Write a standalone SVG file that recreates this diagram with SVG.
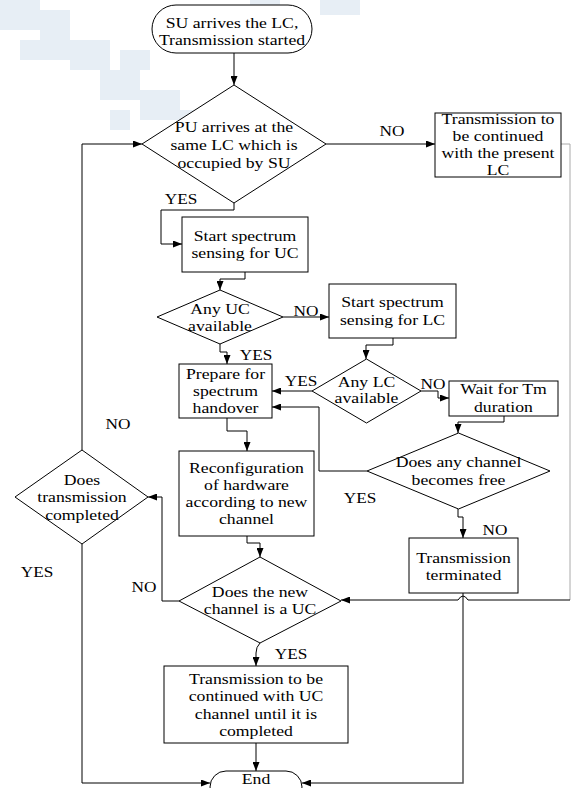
<svg xmlns="http://www.w3.org/2000/svg" width="571" height="788" viewBox="0 0 571 788">
<style>
.n{fill:#fff;stroke:#000;stroke-width:1}
.t{font-family:"Liberation Serif","Times New Roman",serif;font-size:15px;fill:#000;text-anchor:middle}
.c{fill:none;stroke:#000;stroke-width:1}
.wm{fill:#dde7f2}
</style>
<defs>
<marker id="ah" markerUnits="userSpaceOnUse" markerWidth="9" markerHeight="7" refX="9" refY="3.5" orient="auto"><path d="M0,0 L9,3.5 L0,7 z" fill="#000"/></marker>
</defs>
<rect width="571" height="788" fill="#fff"/>
<g id="watermark" opacity="0.7">
<rect class="wm" x="0" y="0" width="40" height="30"/>
<rect class="wm" x="40" y="10" width="30" height="30"/>
<rect class="wm" x="20" y="40" width="50" height="20"/>
<rect class="wm" x="70" y="40" width="40" height="30"/>
<rect class="wm" x="100" y="70" width="40" height="30"/>
<rect class="wm" x="120" y="50" width="30" height="20"/>
<rect class="wm" x="140" y="90" width="40" height="30"/>
<rect class="wm" x="180" y="110" width="40" height="20"/>
<rect class="wm" x="110" y="110" width="20" height="20"/>
<rect class="wm" x="250" y="0" width="30" height="20"/>
<rect class="wm" x="320" y="0" width="40" height="15"/>
</g>
<g id="connectors">
<path class="c" d="M234,53 L234,85" marker-end="url(#ah)"/>
<path class="c" d="M326,144 L435,144" marker-end="url(#ah)"/>
<path class="c" d="M234,203 L234,210 L161,210 L161,244 L182,244" marker-end="url(#ah)"/>
<path class="c" d="M245,272 L245,279 L220,279 L220,290" marker-end="url(#ah)"/>
<path class="c" d="M283,317 L329,317" marker-end="url(#ah)"/>
<path class="c" d="M220,344 L220,352 L227,352 L227,364" marker-end="url(#ah)"/>
<path class="c" d="M393,338 L393,345 L366,345 L366,359" marker-end="url(#ah)"/>
<path class="c" d="M312,391 L272,391" marker-end="url(#ah)"/>
<path class="c" d="M421,391 L438,391 L438,398 L449,398" marker-end="url(#ah)"/>
<path class="c" d="M504,416 L504,422 L458,422 L458,433" marker-end="url(#ah)"/>
<path class="c" d="M367,471 L319,471 L319,407 L272,407" marker-end="url(#ah)"/>
<path class="c" d="M458,509 L458,517 L463,517 L463,538" marker-end="url(#ah)"/>
<path class="c" d="M227,418 L227,431 L247,431 L247,451" marker-end="url(#ah)"/>
<path class="c" d="M247,536 L247,543 L260,543 L260,557" marker-end="url(#ah)"/>
<path class="c" d="M179,601 L162,601 L162,497 L148,497" marker-end="url(#ah)"/>
<path class="c" d="M260,643 Q256,647 256,653 L256,666" marker-end="url(#ah)"/>
<path class="c" d="M256,743 L256,771" marker-end="url(#ah)"/>
<path class="c" d="M82,450 L82,144 L142,144" marker-end="url(#ah)"/>
<path class="c" d="M82,544 L82,783 L210,783" marker-end="url(#ah)"/>
<path class="c" d="M463,593 L463,783 L302,783" style="stroke:#555;stroke-width:1.5" marker-end="url(#ah)"/>
<path class="c" d="M561,144 L570,144 L570,600" style="stroke:#aaa"/>
<path class="c" d="M570,600 L468,600 Q463,592 458,600 L341,600" marker-end="url(#ah)"/>
</g>
<g id="start">
<rect class="n" x="152" y="5" width="160" height="48" rx="24"/>
<g transform="translate(232 0) scale(1.18 1)"><text class="t"><tspan x="0" y="28">SU arrives the LC,</tspan><tspan x="0" y="45">Transmission started</tspan></text></g>
</g>
<g id="pu_arrives">
<polygon class="n" points="234,85 326,144 234,203 142,144"/>
<g transform="translate(234 0) scale(1.18 1)"><text class="t"><tspan x="0" y="132">PU arrives at the</tspan><tspan x="0" y="150">same LC which is</tspan><tspan x="0" y="168">occupied by SU</tspan></text></g>
</g>
<g id="continue_lc">
<rect class="n" x="435" y="113" width="126" height="64"/>
<g transform="translate(498 0) scale(1.18 1)"><text class="t"><tspan x="0" y="124">Transmission to</tspan><tspan x="0" y="141">be continued</tspan><tspan x="0" y="158">with the present</tspan><tspan x="0" y="175">LC</tspan></text></g>
</g>
<g id="sense_uc">
<rect class="n" x="182" y="217" width="126" height="55"/>
<g transform="translate(245 0) scale(1.18 1)"><text class="t"><tspan x="0" y="241">Start spectrum</tspan><tspan x="0" y="258">sensing for UC</tspan></text></g>
</g>
<g id="any_uc">
<polygon class="n" points="220,290 283,317 220,344 157,317"/>
<g transform="translate(220 0) scale(1.18 1)"><text class="t"><tspan x="0" y="314">Any UC</tspan><tspan x="0" y="331">available</tspan></text></g>
</g>
<g id="sense_lc">
<rect class="n" x="329" y="284" width="127" height="54"/>
<g transform="translate(392.5 0) scale(1.18 1)"><text class="t"><tspan x="0" y="307">Start spectrum</tspan><tspan x="0" y="325">sensing for LC</tspan></text></g>
</g>
<g id="any_lc">
<polygon class="n" points="366.5,359 421,391 366.5,423 312,391"/>
<g transform="translate(366.5 0) scale(1.18 1)"><text class="t"><tspan x="0" y="387">Any LC</tspan><tspan x="0" y="403">available</tspan></text></g>
</g>
<g id="prepare">
<rect class="n" x="179" y="364" width="93" height="54"/>
<g transform="translate(225.5 0) scale(1.18 1)"><text class="t"><tspan x="0" y="379">Prepare for</tspan><tspan x="0" y="396">spectrum</tspan><tspan x="0" y="413">handover</tspan></text></g>
</g>
<g id="wait">
<rect class="n" x="449" y="381" width="109" height="35"/>
<g transform="translate(503.5 0) scale(1.18 1)"><text class="t"><tspan x="0" y="394">Wait for Tm</tspan><tspan x="0" y="412">duration</tspan></text></g>
</g>
<g id="channel_free">
<polygon class="n" points="458.5,433 550,471 458.5,509 367,471"/>
<g transform="translate(458.5 0) scale(1.18 1)"><text class="t"><tspan x="0" y="467">Does any channel</tspan><tspan x="0" y="485">becomes free</tspan></text></g>
</g>
<g id="terminated">
<rect class="n" x="409" y="538" width="109" height="55"/>
<g transform="translate(463.5 0) scale(1.18 1)"><text class="t"><tspan x="0" y="563">Transmission</tspan><tspan x="0" y="580">terminated</tspan></text></g>
</g>
<g id="reconfig">
<rect class="n" x="179" y="451" width="135" height="85"/>
<g transform="translate(246.5 0) scale(1.18 1)"><text class="t"><tspan x="0" y="473">Reconfiguration</tspan><tspan x="0" y="490">of hardware</tspan><tspan x="0" y="507">according to new</tspan><tspan x="0" y="524">channel</tspan></text></g>
</g>
<g id="new_uc">
<polygon class="n" points="260,557 341,601 260,643 179,601"/>
<g transform="translate(260 0) scale(1.18 1)"><text class="t"><tspan x="0" y="597">Does the new</tspan><tspan x="0" y="614">channel is a UC</tspan></text></g>
</g>
<g id="tx_done">
<polygon class="n" points="82,450 148,497 82,544 15,497"/>
<g transform="translate(82 0) scale(1.18 1)"><text class="t"><tspan x="0" y="485">Does</tspan><tspan x="0" y="502">transmission</tspan><tspan x="0" y="520">completed</tspan></text></g>
</g>
<g id="continue_uc">
<rect class="n" x="164" y="666" width="184" height="77"/>
<g transform="translate(256 0) scale(1.18 1)"><text class="t"><tspan x="0" y="684">Transmission to be</tspan><tspan x="0" y="701">continued with UC</tspan><tspan x="0" y="719">channel until it is</tspan><tspan x="0" y="736">completed</tspan></text></g>
</g>
<g id="end">
<rect class="n" x="210" y="771" width="92" height="32" rx="16"/>
<g transform="translate(256 0) scale(1.18 1)"><text class="t"><tspan x="0" y="784">End</tspan></text></g>
</g>
<g id="labels">
<g transform="translate(392 0) scale(1.15 1)"><text class="t" x="0" y="136">NO</text></g>
<g transform="translate(181 0) scale(1.15 1)"><text class="t" x="0" y="204">YES</text></g>
<g transform="translate(306 0) scale(1.15 1)"><text class="t" x="0" y="316">NO</text></g>
<g transform="translate(256 0) scale(1.15 1)"><text class="t" x="0" y="360">YES</text></g>
<g transform="translate(301 0) scale(1.15 1)"><text class="t" x="0" y="386">YES</text></g>
<g transform="translate(433 0) scale(1.15 1)"><text class="t" x="0" y="389">NO</text></g>
<g transform="translate(118 0) scale(1.15 1)"><text class="t" x="0" y="429">NO</text></g>
<g transform="translate(360 0) scale(1.15 1)"><text class="t" x="0" y="503">YES</text></g>
<g transform="translate(495 0) scale(1.15 1)"><text class="t" x="0" y="535">NO</text></g>
<g transform="translate(37 0) scale(1.15 1)"><text class="t" x="0" y="577">YES</text></g>
<g transform="translate(144 0) scale(1.15 1)"><text class="t" x="0" y="592">NO</text></g>
<g transform="translate(291 0) scale(1.15 1)"><text class="t" x="0" y="659">YES</text></g>
</g>
</svg>
